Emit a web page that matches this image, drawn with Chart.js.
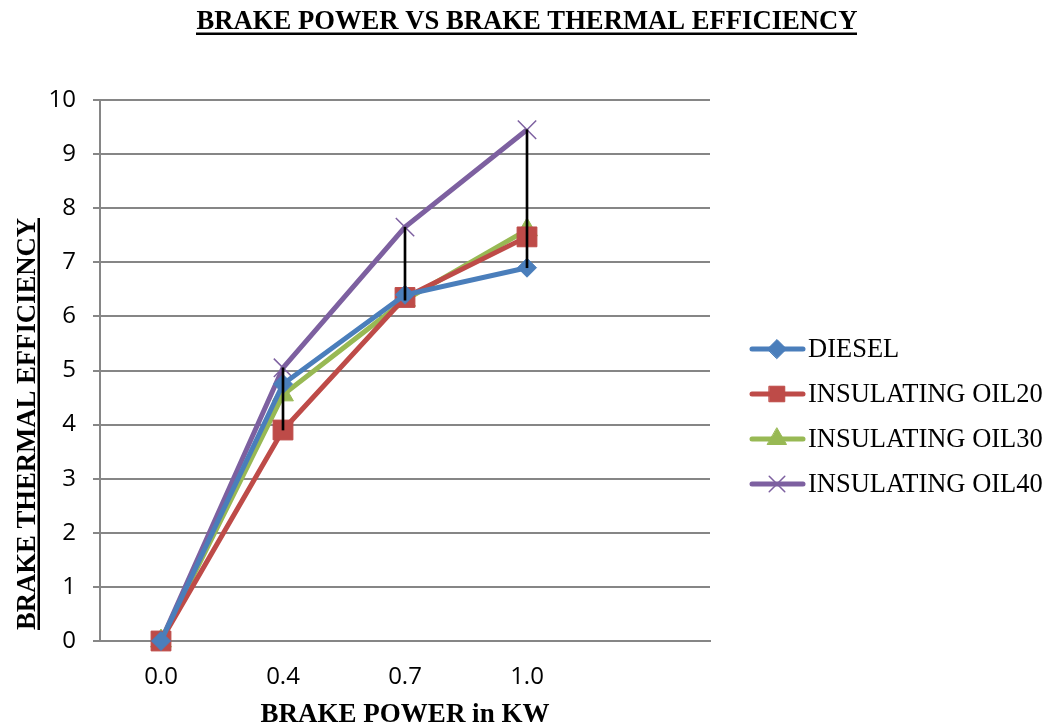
<!DOCTYPE html>
<html>
<head>
<meta charset="utf-8">
<script src="https://cdn.jsdelivr.net/npm/chart.js@4/dist/chart.umd.min.js"></script>
<style>
  html, body { margin: 0; padding: 0; background: #fff; }
  #wrap { width: 1051px; height: 727px; position: relative; }
</style>
</head>
<body>
<div id="wrap"><canvas id="myChart" width="1051" height="727"></canvas></div>
<script>
const labels = ['0.0', '0.4', '0.7', '1.0', ''];

const diesel = [0, 4.75, 6.4, 6.9];
const oil20 = [0, 3.9, 6.35, 7.47];
const oil30 = [0, 4.55, 6.3, 7.6];
const oil40 = [0, 5.05, 7.65, 9.45];

const seriesNames = ['DIESEL', 'INSULATING OIL20', 'INSULATING OIL30', 'INSULATING OIL40'];
const yTicks = [0, 1, 2, 3, 4, 5, 6, 7, 8, 9, 10];

const chartTitle = 'BRAKE POWER VS BRAKE THERMAL EFFICIENCY';
const xTitle = 'BRAKE POWER in KW';
const yTitle = 'BRAKE THERMAL EFFICIENCY';

const allSeries = [diesel, oil20, oil30, oil40];

// high-low lines : min to max at each category (none where all equal)
let highLow = [];
for (let i = 0; i < diesel.length; i++) {
    let vals = allSeries.map(s => s[i]);
    let lo = Math.min(...vals), hi = Math.max(...vals);
    highLow.push(hi > lo ? [lo, hi] : null);
}

const colors = ['#4A7EBB', '#BE4B48', '#98B954', '#7D60A0'];
const styles = [
    { pointStyle: 'rectRot', radius: 9.5, bw: 1 },
    { pointStyle: 'rect', radius: 14, bw: 1 },
    { pointStyle: 'triangle', radius: 12, bw: 1 },
    { pointStyle: 'crossRot', radius: 13, bw: 1.5 }
];

let lineSets = allSeries.map((s, i) => ({
    type: 'line',
    label: seriesNames[i],
    data: s,
    borderColor: colors[i],
    backgroundColor: colors[i],
    borderWidth: 5,
    tension: 0,
    clip: false,
    pointStyle: styles[i].pointStyle,
    pointRadius: styles[i].radius,
    pointHoverRadius: styles[i].radius,
    pointBorderWidth: styles[i].bw,
    pointBorderColor: colors[i],
    pointBackgroundColor: colors[i],
    order: 1
}));

const serif = '"Liberation Serif", "Times New Roman", serif';
const sans = '"Open Sans", "Noto Sans", sans-serif';

const textPlugin = {
    id: 'texts',
    afterDraw(chart) {
        const ctx = chart.ctx;
        ctx.save();
        ctx.fillStyle = '#000';

        // title, underlined
        ctx.font = 'bold 26.5px ' + serif;
        ctx.textAlign = 'center';
        ctx.textBaseline = 'alphabetic';
        let w = ctx.measureText(chartTitle).width;
        ctx.save();
        ctx.translate(527, 29);
        ctx.scale(661 / w, 1);
        ctx.fillText(chartTitle, 0, 0);
        ctx.restore();
        ctx.fillRect(196, 32.5, 661, 2.5);

        // y title, underlined
        ctx.save();
        ctx.translate(35, 424);
        ctx.rotate(-Math.PI / 2);
        ctx.font = 'bold 26.5px ' + serif;
        let wy = ctx.measureText(yTitle).width;
        ctx.save();
        ctx.scale(412 / wy, 1);
        ctx.fillText(yTitle, 0, 0);
        ctx.restore();
        ctx.fillRect(-206, 2.5, 412, 2.5);
        ctx.restore();

        // legend
        ctx.font = '26.5px ' + serif;
        ctx.textAlign = 'left';
        ctx.textBaseline = 'middle';
        const ly = [349, 394, 439, 484];
        lineSets.forEach((ds, i) => {
            let y = ly[i];
            ctx.strokeStyle = ds.borderColor;
            ctx.lineWidth = 5;
            ctx.lineCap = 'round';
            ctx.beginPath();
            ctx.moveTo(752, y);
            ctx.lineTo(803, y);
            ctx.stroke();
            ctx.fillStyle = ds.backgroundColor;
            ctx.lineWidth = ds.pointBorderWidth;
            Chart.helpers.drawPoint(ctx, {
                pointStyle: ds.pointStyle,
                radius: Math.min(ds.pointRadius, 11),
                borderWidth: ds.pointBorderWidth,
                rotation: 0
            }, 777, y);
            ctx.fillStyle = '#000';
            ctx.fillText(ds.label, 808, y + 1);
        });
        ctx.restore();
    }
};

const ctx = document.getElementById('myChart').getContext('2d');
const myChart = new Chart(ctx, {
    data: {
        labels: labels,
        datasets: [
            ...lineSets,
            {
                type: 'bar',
                label: 'hl',
                data: highLow,
                backgroundColor: '#000',
                barThickness: 2,
                order: 0
            }
        ]
    },
    options: {
        responsive: false,
        animation: false,
        layout: {
            padding: { left: 0, top: 100, right: 341, bottom: 0 }
        },
        plugins: {
            legend: { display: false },
            tooltip: { enabled: false },
            title: { display: false }
        },
        scales: {
            x: {
                offset: true,
                grid: { display: false },
                border: { color: '#868686', width: 2 },
                ticks: {
                    color: '#000',
                    padding: 14,
                    font: { family: sans, size: 24 }
                },
                title: {
                    display: true,
                    text: xTitle,
                    color: '#000',
                    font: { family: serif, size: 27, weight: 'bold' },
                    padding: { top: 8, bottom: -4 }
                },
                afterFit: scale => { scale.height = 86; }
            },
            y: {
                min: 0,
                max: 10,
                afterBuildTicks: scale => { scale.ticks = yTicks.map(v => ({ value: v })); },
                grid: { color: '#868686', lineWidth: 2, tickLength: 7 },
                border: { color: '#868686', width: 2 },
                ticks: {
                    color: '#000',
                    padding: 17,
                    font: { family: sans, size: 24 }
                },
                afterFit: scale => { scale.width = 100; }
            }
        }
    },
    plugins: [textPlugin]
});
</script>
</body>
</html>
